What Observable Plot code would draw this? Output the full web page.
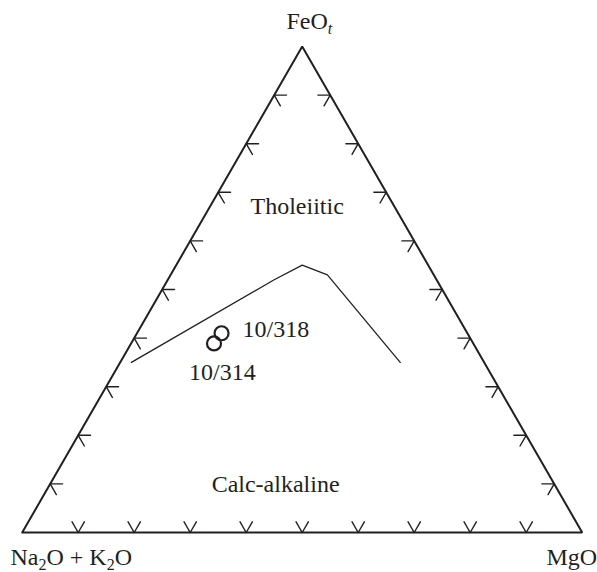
<!DOCTYPE html>
<html>
<head>
<meta charset="utf-8">
<script src="https://cdn.jsdelivr.net/npm/d3@7"></script>
<script src="https://cdn.jsdelivr.net/npm/@observablehq/plot@0.6"></script>
<style>
  html, body { margin: 0; padding: 0; background: #fff; }
  svg { display: block; }
  svg text, svg tspan { font-family: "Liberation Serif", "Times New Roman", Times, serif !important; }
</style>
</head>
<body>
<div id="chart"></div>
<script>
// ---- data (compositions in %: A = Na2O+K2O, F = FeOt, M = MgO) ----
const vertexLabels = ["Na_2O + K_2O", "MgO", "FeO_t"];
const vertexA = [100, 0, 0];
const vertexF = [0, 0, 100];
const vertexM = [0, 100, 0];

const tickValues = [10, 20, 30, 40, 50, 60, 70, 80, 90];

// Tholeiitic / calc-alkaline boundary
const boundaryA = [63, 29, 22.5, 19, 15];
const boundaryF = [35, 52, 55, 53, 35];
const boundaryM = [2, 19, 22.5, 28, 50];

// samples
const sampleNames = ["10/318", "10/314"];
const sampleA = [43.9, 46.3];
const sampleF = [41.0, 38.9];
const sampleM = [15.1, 14.8];

// field labels
const fieldNames = ["Tholeiitic", "Calc-alkaline"];
const fieldA = [17.3, 49.8];
const fieldF = [67.2, 9.9];
const fieldM = [15.5, 40.3];

// ---- ternary projection ----
const S3 = Math.sqrt(3) / 2;
const px = d => d.M + d.F / 2;
const py = d => d.F * S3;

const vertices = vertexLabels.map((label, i) => ({label, A: vertexA[i], F: vertexF[i], M: vertexM[i]}));
const outline = [vertices[0], vertices[1], vertices[2], vertices[0]];
const boundary = boundaryA.map((A, i) => ({A, F: boundaryF[i], M: boundaryM[i]}));
const samples = sampleNames.map((name, i) => ({name, A: sampleA[i], F: sampleF[i], M: sampleM[i]}));
const fields = fieldNames.map((name, i) => ({name, A: fieldA[i], F: fieldF[i], M: fieldM[i]}));

// arrowhead ticks on each edge
const L = 2.2;
const tickPaths = [];
tickValues.forEach(t => {
  tickPaths.push([{A: 100 - t - L, F: t, M: L}, {A: 100 - t, F: t, M: 0}, {A: 100 - t, F: t - L, M: L}].map(p => ({...p, id: "l" + t})));
  tickPaths.push([{A: 100 - t - L, F: L, M: t}, {A: 100 - t, F: 0, M: t}, {A: 100 - t, F: L, M: t - L}].map(p => ({...p, id: "b" + t})));
  tickPaths.push([{A: L, F: t, M: 100 - t - L}, {A: 0, F: t, M: 100 - t}, {A: L, F: t - L, M: 100 - t}].map(p => ({...p, id: "r" + t})));
});
const tickData = tickPaths.flat();

const ink = "#231f20";
const font = "Liberation Serif";

const chart = Plot.plot({
  width: 597,
  height: 572,
  margin: 0,
  style: {background: "#fff", fontFamily: font},
  x: {domain: [0, 100], range: [21.7, 581.7], axis: null},
  y: {domain: [0, 100 * S3], range: [532, 46], axis: null},
  marks: [
    Plot.line(tickData, {x: px, y: py, z: "id", stroke: ink, strokeWidth: 1.4}),
    Plot.line(outline, {x: px, y: py, stroke: ink, strokeWidth: 2, strokeLinejoin: "miter"}),
    Plot.line(boundary, {x: px, y: py, stroke: ink, strokeWidth: 1.3}),
    Plot.dot(samples, {x: px, y: py, r: 7, stroke: ink, strokeWidth: 2.2, fill: "none"}),
    Plot.text([samples[0]], {x: px, y: py, text: "name", textAnchor: "start", dx: 21, dy: -3.7, fontSize: 24, fontFamily: font, fill: ink}),
    Plot.text([samples[1]], {x: px, y: py, text: "name", textAnchor: "start", dx: -25, dy: 29.3, fontSize: 24, fontFamily: font, fill: ink}),
    Plot.text(fields, {x: px, y: py, text: "name", fontSize: 24, fontFamily: font, fill: ink}),
    Plot.text([vertices[0]], {x: px, y: py, text: "label", textAnchor: "start", dx: -11.7, dy: 25.3, fontSize: 24, fontFamily: font, fill: ink}),
    Plot.text([vertices[1]], {x: px, y: py, text: "label", textAnchor: "end", dx: 15, dy: 25.3, fontSize: 24, fontFamily: font, fill: ink}),
    Plot.text([vertices[2]], {x: px, y: py, text: "label", textAnchor: "start", dx: -15.7, dy: -24.7, fontSize: 24, fontFamily: font, fill: ink})
  ]
});

// turn "_x" into subscripts
d3.select(chart).selectAll("text").each(function() {
  const t = this.textContent;
  if (!t.includes("_")) return;
  const parts = t.split(/_(\w)/);
  const sel = d3.select(this);
  sel.text(null);
  let pending = 0;
  parts.forEach((p, i) => {
    if (p === "") return;
    const sub = i % 2 === 1;
    const shift = sub ? 5 : 0;
    const ts = sel.append("tspan").text(p);
    if (shift - pending !== 0) ts.attr("dy", shift - pending);
    pending = shift;
    if (sub) {
      ts.attr("font-size", 16);
      if (p === "t") ts.attr("font-style", "italic");
    }
  });
});

document.getElementById("chart").appendChild(chart);
</script>
</body>
</html>
